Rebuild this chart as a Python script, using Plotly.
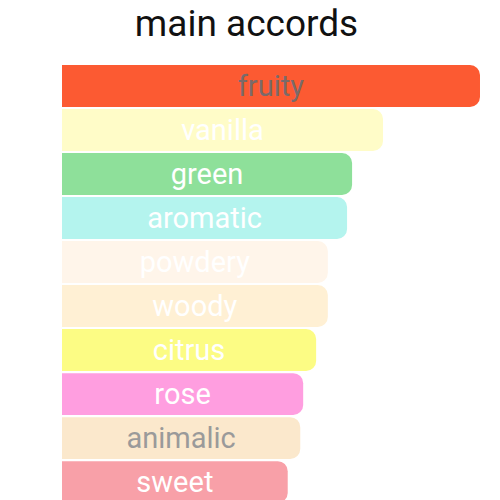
import plotly.graph_objects as go

# accords, top to bottom
accords = ["fruity", "vanilla", "green", "aromatic", "powdery",
           "woody", "citrus", "rose", "animalic", "sweet"]
strength = [100, 76.8, 69.4, 68.2, 63.6, 63.6, 60.8, 57.7, 57, 54]
bar_colors = ["#fc5a32", "#fffcc8", "#8ee09a", "#b4f4ee", "#fff5ea",
              "#fff0d4", "#fcfc84", "#ff9ee0", "#fbe8cc", "#f8a0a8"]
text_colors = ["#7a6a6a", "#ffffff", "#ffffff", "#ffffff", "#ffffff",
               "#ffffff", "#ffffff", "#ffffff", "#9a9a9a", "#ffffff"]

fig = go.Figure()

fig.add_trace(go.Bar(
    x=strength,
    y=accords,
    orientation="h",
    width=0.95,
    marker=dict(color=bar_colors, cornerradius=10, line=dict(width=0)),
    text=accords,
    textposition="inside",
    insidetextanchor="middle",
    textfont=dict(color=text_colors, size=29, family="Roboto"),
    hoverinfo="skip",
))

fig.update_layout(
    width=500,
    height=500,
    title=dict(text="main accords", x=0.477, xanchor="center",
               y=0.97, yanchor="middle",
               font=dict(size=37, color="#111111", family="Roboto")),
    margin=dict(l=54, r=0, t=56, b=0),
    plot_bgcolor="white",
    paper_bgcolor="white",
    showlegend=False,
    uniformtext=dict(minsize=29, mode="show"),
    xaxis=dict(range=[0, 106.7], visible=False, fixedrange=True),
    yaxis=dict(range=[9.59, -0.5], visible=False, fixedrange=True,
               categoryorder="array", categoryarray=accords),
)

fig.write_html("out.html")
